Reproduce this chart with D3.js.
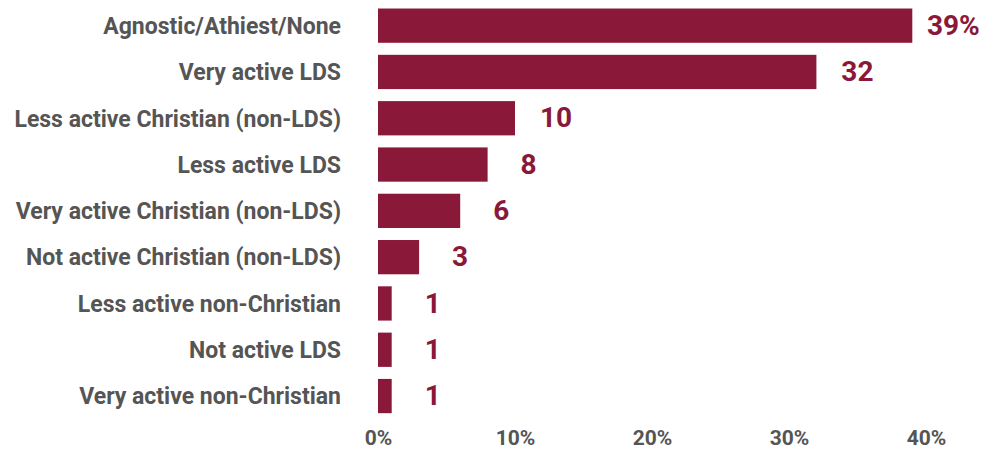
<!DOCTYPE html>
<html>
<head>
<meta charset="utf-8">
<script src="https://cdn.jsdelivr.net/npm/d3@7"></script>
<style>
  html, body { margin: 0; padding: 0; background: #fff; }
  svg { display: block; font-family: Roboto, "Noto Sans", sans-serif; }
</style>
</head>
<body>
<svg id="chart" width="986" height="450"></svg>
<script>
// Religious affiliation shares (percent)
const categories = [
  "Agnostic/Athiest/None",
  "Very active LDS",
  "Less active Christian (non-LDS)",
  "Less active LDS",
  "Very active Christian (non-LDS)",
  "Not active Christian (non-LDS)",
  "Less active non-Christian",
  "Not active LDS",
  "Very active non-Christian"
];
const values = [39, 32, 10, 8, 6, 3, 1, 1, 1];
const valueLabels = ["39%", "32", "10", "8", "6", "3", "1", "1", "1"];
const tickValues = [0, 10, 20, 30, 40];
const tickLabels = ["0%", "10%", "20%", "30%", "40%"];

const barColor = "#8a1838";
const textColor = "#555555";

const svg = d3.select("#chart");

const x = d3.scaleLinear().domain([0, 40]).range([378, 926]);
const y = d3.scaleBand()
  .domain(categories)
  .range([2.5, 419.2])
  .paddingInner(0.26)
  .paddingOuter(0.13);

// Bars
svg.append("g")
  .selectAll("rect")
  .data(values)
  .join("rect")
  .attr("x", x(0))
  .attr("y", (d, i) => y(categories[i]))
  .attr("width", d => x(d) - x(0))
  .attr("height", y.bandwidth())
  .attr("fill", barColor);

// Value labels, centred a fixed distance past each bar end
svg.append("g")
  .selectAll("text")
  .data(values)
  .join("text")
  .attr("x", d => x(d) + 41)
  .attr("y", (d, i) => y(categories[i]) + y.bandwidth() / 2)
  .attr("dy", "0.33em")
  .attr("text-anchor", "middle")
  .attr("fill", barColor)
  .attr("font-size", 28)
  .attr("font-weight", 700)
  .text((d, i) => valueLabels[i]);

// Category axis (labels only)
const yAxis = svg.append("g")
  .attr("transform", "translate(341,0)")
  .call(d3.axisLeft(y).tickSize(0).tickPadding(0));
yAxis.select(".domain").remove();
yAxis.selectAll("text")
  .attr("fill", textColor)
  .attr("font-size", 23)
  .attr("font-weight", 700)
  .attr("font-family", "Roboto, sans-serif")
  .attr("dy", "0.36em");

// Percentage axis (labels only)
const xAxis = svg.append("g")
  .attr("transform", "translate(0,445)")
  .call(d3.axisBottom(x)
    .tickValues(tickValues)
    .tickFormat((d, i) => tickLabels[i])
    .tickSize(0)
    .tickPadding(0));
xAxis.select(".domain").remove();
xAxis.selectAll("text")
  .attr("fill", textColor)
  .attr("font-size", 21)
  .attr("font-weight", 700)
  .attr("font-family", "Roboto, sans-serif")
  .attr("y", 0)
  .attr("dy", 0);
</script>
</body>
</html>
